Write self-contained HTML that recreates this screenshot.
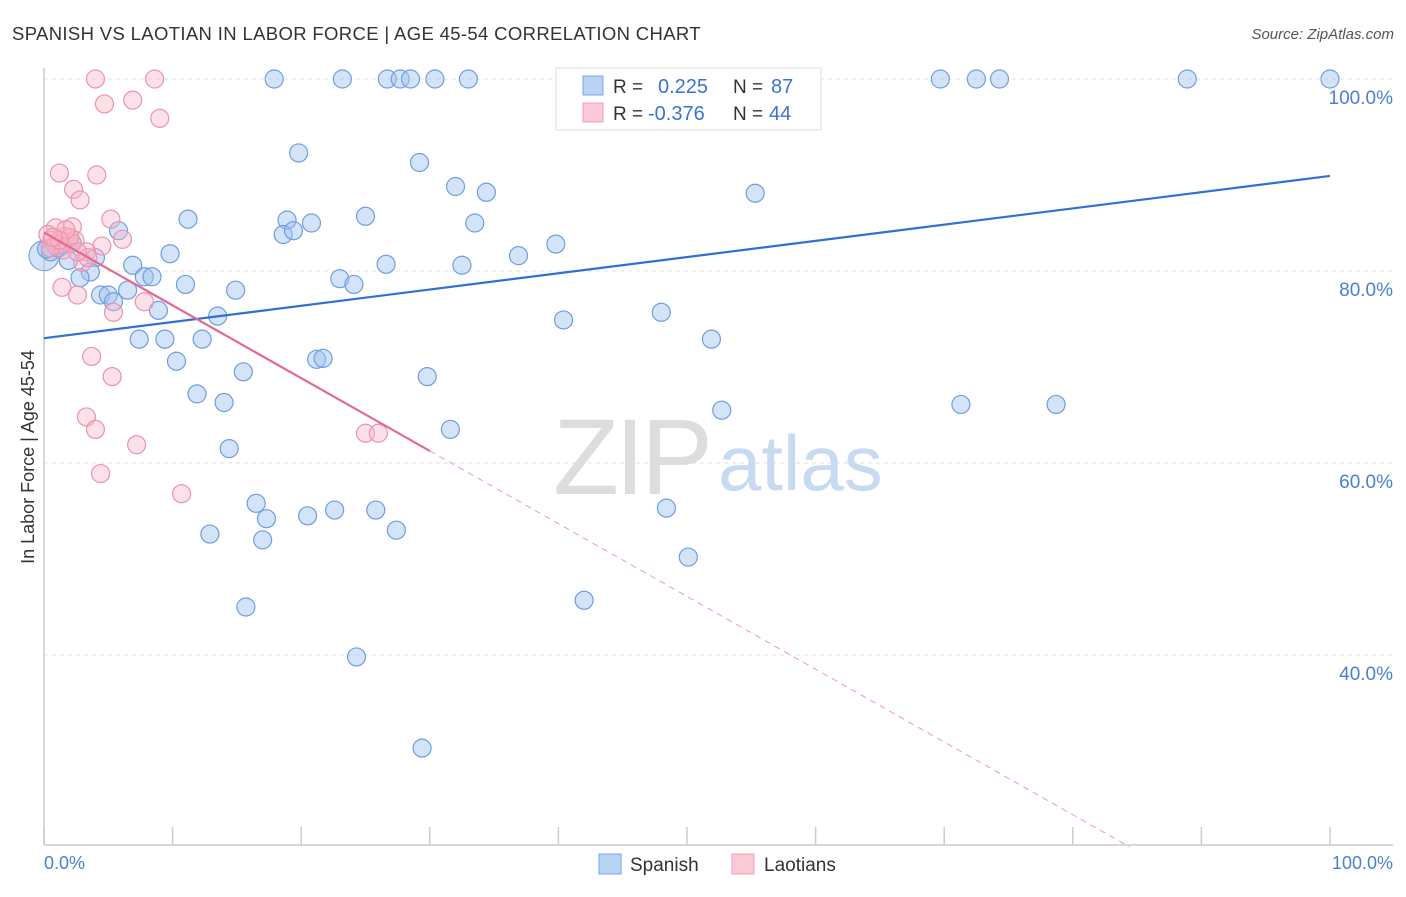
<!DOCTYPE html>
<html><head><meta charset="utf-8"><style>
body{margin:0;background:#fff;font-family:"Liberation Sans",sans-serif;}
svg text{font-family:"Liberation Sans",sans-serif;}
</style></head><body>
<svg id="chart" width="1406" height="892" xmlns="http://www.w3.org/2000/svg">
<text x="12" y="40" font-size="18.5" fill="#333" letter-spacing="0.35">SPANISH VS LAOTIAN IN LABOR FORCE | AGE 45-54 CORRELATION CHART</text>
<text x="1394" y="39" font-size="15" fill="#555" font-style="italic" text-anchor="end">Source: ZipAtlas.com</text>
<g id="grid"></g>
<g>
<text x="553" y="494" font-size="108" fill="#ddd" font-family="Liberation Serif" letter-spacing="-4">ZIP</text>
<text x="718" y="490" font-size="78" fill="#c8daf2">atlas</text>
</g>
<line x1="44" y1="68" x2="44" y2="845" stroke="#ccc" stroke-width="1.5"/>
<line x1="44" y1="845" x2="1393" y2="845" stroke="#ccc" stroke-width="1.5"/>
<g id="points"></g>
<g id="trends"></g>
<text transform="translate(34,457) rotate(-90)" font-size="18" fill="#333" text-anchor="middle">In Labor Force | Age 45-54</text>
<text x="44" y="869" font-size="18" fill="#4a7fd4">0.0%</text>
<text x="1393" y="869" font-size="18" fill="#4a7fd4" text-anchor="end">100.0%</text>
<g>
<rect x="556" y="68" width="265" height="62" fill="#fff" stroke="#ddd"/>
<rect x="583" y="76" width="20" height="19" fill="#b9d3f5" stroke="#7aa6e3"/>
<rect x="583" y="103" width="20" height="19" fill="#fcc9d6" stroke="#eda0b5"/>
<text x="613" y="93" font-size="19" fill="#333">R =</text>
<text x="658" y="93" font-size="20" fill="#3b73d1">0.225</text>
<text x="733" y="93" font-size="19" fill="#333">N =</text>
<text x="771" y="93" font-size="20" fill="#3b73d1">87</text>
<text x="613" y="120" font-size="19" fill="#333">R =</text>
<text x="648" y="120" font-size="20" fill="#3b73d1">-0.376</text>
<text x="733" y="120" font-size="19" fill="#333">N =</text>
<text x="769" y="120" font-size="20" fill="#3b73d1">44</text>
</g>
<g>
<rect x="599" y="854" width="22" height="20" fill="#b9d3f5" stroke="#7aa6e3"/>
<text x="630" y="871" font-size="19" fill="#333">Spanish</text>
<rect x="732" y="854" width="22" height="20" fill="#fcc9d6" stroke="#eda0b5"/>
<text x="764" y="871" font-size="19" fill="#333">Laotians</text>
</g>
</svg>
<script>
const yTicks=[100,80,60,40];
const xTickVals=[0,10,20,30,40,50,60,70,80,90,100];
const spanX=[17.9,23.2,26.7,27.7,28.5,30.4,33.0,46.7,56.1,69.7,72.5,74.3,88.9,100,19.8,29.2,32.0,34.4,55.3,11.2,18.9,20.8,25.0,33.5,5.8,18.6,19.4,39.8,2.2,9.8,36.9,4.0,1.9,6.9,26.6,32.5,3.6,7.8,8.4,2.8,23.0,11.0,24.1,14.9,4.4,5.0,5.4,6.5,8.9,13.5,40.4,48.0,7.4,9.4,12.3,51.9,10.3,21.2,21.7,15.5,29.8,11.9,14.0,52.7,71.3,78.7,31.6,14.4,16.5,17.3,20.5,22.6,25.8,48.4,27.4,12.9,17.0,50.1,15.7,42.0,24.3,29.4,0.5,1.1,1.4,0.2];
const spanY=[100,100,100,100,100,100,100,100,100,100,100,100,100,100,92.3,91.3,88.8,88.2,88.1,85.4,85.3,85.0,85.7,85.0,84.2,83.8,84.2,82.8,82.9,81.8,81.6,81.4,81.1,80.6,80.7,80.6,79.9,79.4,79.4,79.3,79.2,78.6,78.6,78.0,77.5,77.5,76.8,78.0,75.9,75.3,74.9,75.7,72.9,72.9,72.9,72.9,70.6,70.8,70.9,69.5,69.0,67.2,66.3,65.5,66.1,66.1,63.5,61.5,55.8,54.2,54.5,55.1,55.1,55.3,53.0,52.6,52.0,50.2,45.0,45.7,39.8,30.3,82.0,82.4,82.7,82.3];
const laoX=[4.0,8.6,4.7,6.9,9.0,1.2,4.1,2.3,2.8,5.2,0.9,2.2,6.1,4.5,0.6,1.1,1.6,1.9,2.4,0.3,3.3,3.0,1.4,2.6,7.8,5.4,3.7,5.3,3.3,4.0,7.2,4.4,10.7,25.0,26.0,0.9,1.5,2.0,1.7,0.5,3.4,1.2,0.7,2.6];
const laoY=[100,100,97.4,97.8,95.9,90.2,90.0,88.5,87.4,85.4,84.5,84.6,83.3,82.6,83.2,82.8,83.6,83.0,83.2,83.8,82.0,80.9,78.3,77.5,76.8,75.7,71.1,69.0,64.8,63.5,61.9,58.9,56.8,63.1,63.1,82.7,82.2,83.5,84.3,82.4,81.4,83.2,83.5,82.0];
const spanTrend=[73.0,89.9];
const laoTrend=[84.0,-0.758];
const NS='http://www.w3.org/2000/svg';
const sx=v=>44+v*12.86;
const sy=v=>79+(100-v)*9.6;
function mk(t,a,p){const e=document.createElementNS(NS,t);for(const k in a)e.setAttribute(k,a[k]);p.appendChild(e);return e;}
const grid=document.getElementById('grid');
yTicks.forEach(t=>{
 const l=mk('line',{x1:44,x2:1393,y1:sy(t),y2:sy(t),stroke:'#e2e2e2','stroke-dasharray':'4,4'},grid);
 
 
 const tx=mk('text',{x:1393,y:sy(t)+25,'font-size':19,fill:'#4a7fd4','text-anchor':'end'},grid);
 tx.textContent=t.toFixed(1)+'%';
 
 
});
xTickVals.forEach(t=>{
 const l=mk('line',{x1:sx(t),x2:sx(t),y1:827,y2:845,stroke:'#ccc','stroke-width':1.5},grid);
 
 
});
const pts=document.getElementById('points');
const big=mk('circle',{cx:sx(0),cy:sy(81.6),r:15,fill:'rgba(160,195,240,0.45)',stroke:'#7aa6e3','stroke-width':1.2},pts);


spanX.forEach((x,i)=>{
 const c=mk('circle',{cx:sx(x),cy:sy(spanY[i]),r:9,fill:'rgba(160,195,240,0.45)',stroke:'#6f9de0','stroke-width':1.2},pts);
 
 
});
laoX.forEach((x,i)=>{
 const c=mk('circle',{cx:sx(x),cy:sy(laoY[i]),r:9,fill:'rgba(248,180,198,0.4)',stroke:'#ec93ad','stroke-width':1.2},pts);
 
 
});
const tr=document.getElementById('trends');
const b=mk('line',{x1:sx(0),y1:sy(spanTrend[0]),x2:sx(100),y2:sy(spanTrend[1]),stroke:'#2f6fd6','stroke-width':2.2},tr);


const ly=x=>laoTrend[0]+laoTrend[1]*x;
const p1=mk('line',{x1:sx(0),y1:sy(ly(0)),x2:sx(30),y2:sy(ly(30)),stroke:'#e46a93','stroke-width':2.2},tr);


const xEnd=(20-laoTrend[0])/laoTrend[1];
const p2=mk('line',{x1:sx(30),y1:sy(ly(30)),x2:sx(xEnd),y2:sy(20),stroke:'#eb9ab5','stroke-width':1,'stroke-dasharray':'6,5'},tr);


</script>
</body></html>
